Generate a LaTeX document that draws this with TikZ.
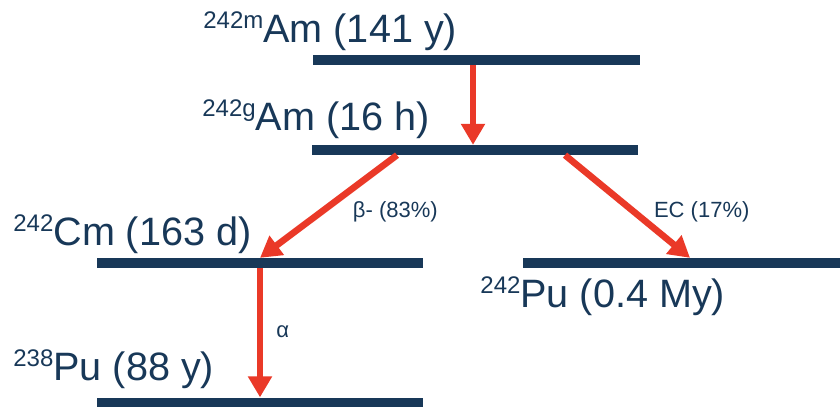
\documentclass[tikz,border=0pt]{standalone}
\usepackage{fontspec}
\setmainfont{Liberation Sans}
\usetikzlibrary{arrows.meta,positioning}
\definecolor{levelblue}{RGB}{24,56,88}
\definecolor{decayred}{RGB}{234,57,40}
\newcommand{\nuc}[2]{{\fontsize{12}{13}\selectfont\raisebox{7pt}{#1}}#2}

\begin{document}
\begin{tikzpicture}[x=0.5pt,y=-0.5pt,
  lvl/.style={fill=levelblue,inner sep=0pt,minimum height=4.75pt,minimum width=#1},
  nuclide/.style={anchor=base west,inner sep=0pt,text=levelblue,
    font=\fontsize{19.8}{23}\selectfont},
  branch/.style={inner sep=0pt,text=levelblue,font=\fontsize{11}{13}\selectfont},
  decay/.style={-{Triangle[length=10.5pt,width=11.5pt]},line width=3.3pt,draw=decayred}]
\useasboundingbox (0,0) rectangle (840,407);
% levels
\node[lvl=163.5pt] (amm) at (476.5,60) {};
\node[lvl=163pt] (amg) at (475,150) {};
\node[lvl=163pt] (cm) at (260,263) {};
\node[lvl=158.5pt] (puB) at (681.5,263) {};
\node[lvl=163pt] (puA) at (260,402.5) {};
% names and half-lives
\node[nuclide] (ammtxt) at (203,42) {\nuc{242m}{Am (141 y)}};
\node[nuclide] (amgtxt) at (202,130) {\nuc{242g}{Am (16 h)}};
\node[nuclide] (cmtxt) at (13,245) {\nuc{242}{Cm (163 d)}};
\node[nuclide] (puBtxt) at (480,307) {\nuc{242}{Pu (0.4 My)}};
\node[nuclide] (puAtxt) at (13,380) {\nuc{238}{Pu (88 y)}};
% decays
\coordinate (itdrop) at (473,0);
\coordinate (betastart) at (397,0);
\coordinate (ecstart) at (565,0);
\coordinate (ecend) at (690,0);
\draw[decay] (amm.south -| itdrop) -- (amg.north -| itdrop);
\draw[decay] (amg.south -| betastart) -- (cm.north)
  node[branch,pos=0.55,right=14pt] {β- (83\%)};
\draw[decay] (amg.south -| ecstart) -- (puB.north -| ecend)
  node[branch,pos=0.55,right=8.5pt] {EC (17\%)};
\draw[decay] (cm.south) -- (puA.north)
  node[branch,pos=0.49,right=6.5pt] {α};
\end{tikzpicture}
\end{document}
